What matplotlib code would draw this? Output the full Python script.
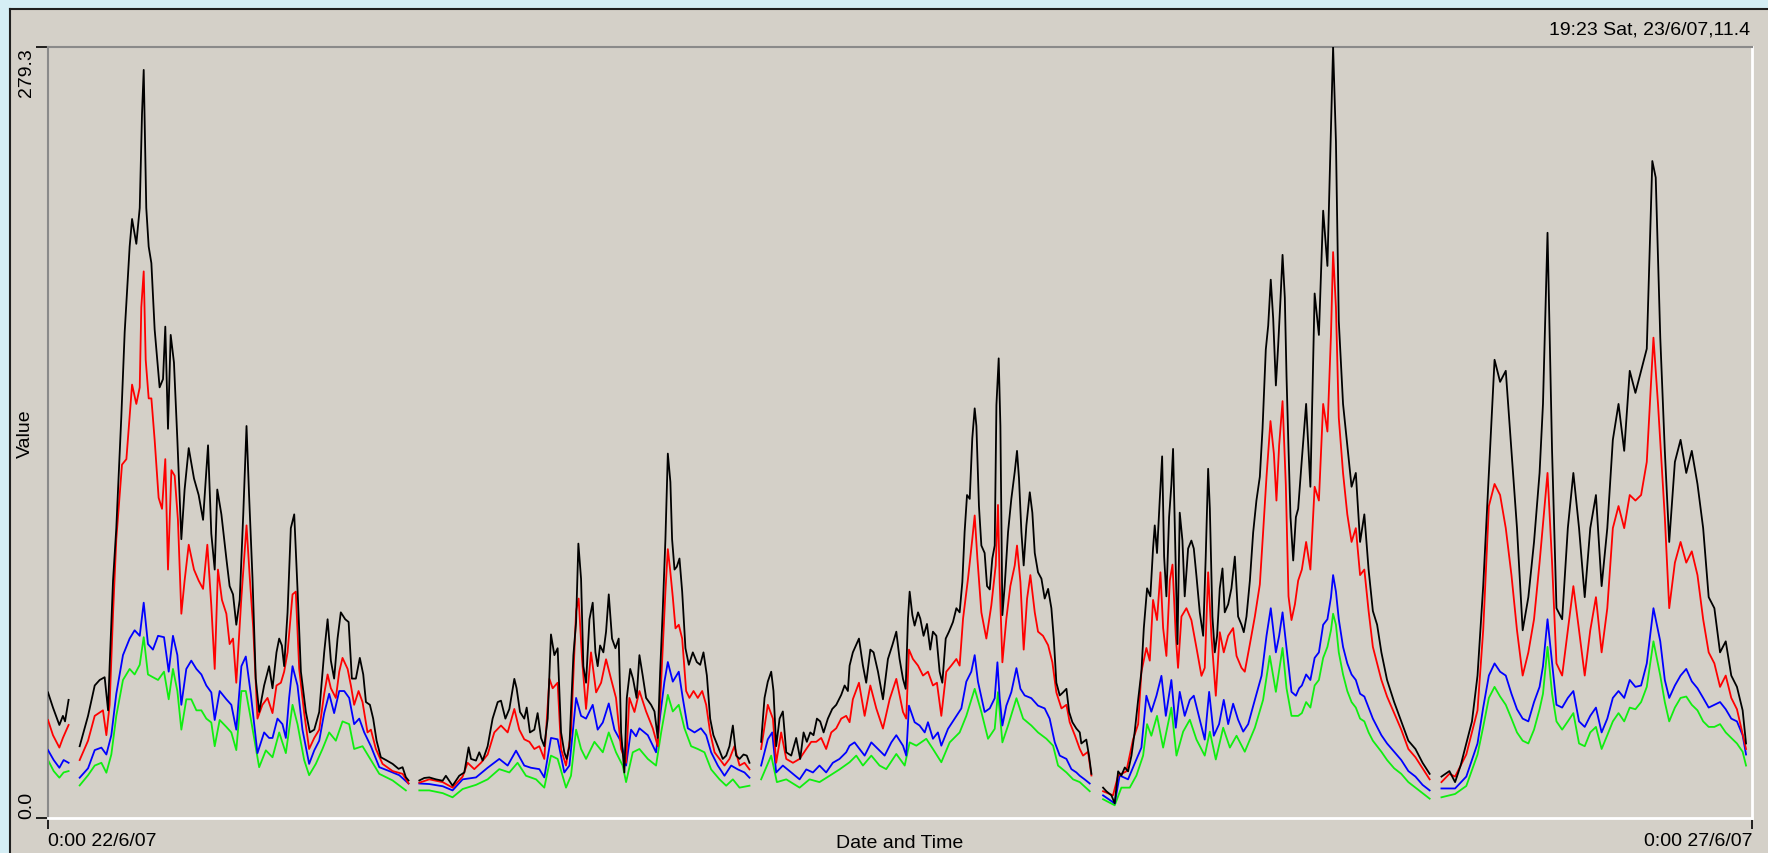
import numpy as np
import matplotlib
matplotlib.use("Agg")
import matplotlib.pyplot as plt
from matplotlib.patches import Rectangle
from matplotlib.lines import Line2D

plt.rcParams['font.family'] = ['Liberation Sans', 'DejaVu Sans']
plt.rcParams['font.size'] = 14

# readings: (hours since 0:00 22/6/07, value)
black_pts = [
    (0.0, 45.5), (0.35, 40), (0.8, 33.7), (1.05, 37), (1.2, 35), (1.45, 42.8),
    (2.23, 26), (2.82, 37), (3.29, 48), (3.64, 50), (3.99, 51), (4.23, 39), (4.34, 55), (4.58, 86),
    (4.81, 105), (5.16, 145), (5.40, 176), (5.75, 207), (5.92, 217), (6.22, 208), (6.46, 221),
    (6.62, 255), (6.74, 271), (6.92, 221), (7.09, 207), (7.28, 201), (7.51, 177), (7.86, 156),
    (8.10, 159), (8.26, 178), (8.45, 141), (8.64, 175), (8.87, 165), (9.11, 137), (9.39, 101),
    (9.62, 119), (9.91, 134), (10.28, 123), (10.61, 117), (10.92, 108), (11.27, 135), (11.50, 103),
    (11.74, 90), (11.92, 119), (12.21, 110), (12.56, 94), (12.79, 84), (13.03, 81), (13.26, 70),
    (13.50, 79), (13.75, 110), (13.98, 142), (14.16, 117), (14.40, 87), (14.63, 50.5), (14.87, 38.4),
    (15.22, 48), (15.57, 55), (15.81, 47), (16.09, 60), (16.28, 65), (16.47, 62.5), (16.63, 55),
    (16.87, 74.5), (17.1, 105), (17.34, 110), (17.57, 83), (17.81, 53), (18.16, 38.4), (18.44, 31),
    (18.75, 32), (19.1, 38.4), (19.45, 60), (19.69, 72), (19.92, 57), (20.15, 50.5), (20.39, 65),
    (20.62, 74.5), (20.93, 72), (21.17, 71), (21.4, 50.5), (21.68, 50.5), (21.96, 58), (22.2, 52),
    (22.39, 42), (22.67, 41), (22.9, 36), (23.14, 28), (23.44, 22), (23.8, 21), (24.27, 19.6),
    (24.69, 17.8), (24.97, 18.4), (25.2, 14.8), (25.39, 13.6),
    (26.15, 13.6), (26.5, 14.5), (26.85, 14.7), (27.32, 14), (27.79, 13.5), (28.02, 15.3),
    (28.49, 11.7), (28.96, 15.3), (29.32, 16.5), (29.62, 25.6), (29.79, 21.4), (30.14, 20.8),
    (30.37, 23.8), (30.61, 20.8), (30.96, 26), (31.31, 36), (31.67, 42), (31.9, 42.5), (32.21, 36),
    (32.49, 39.5), (32.84, 50.4), (33.0, 47), (33.24, 38.4), (33.54, 36), (33.71, 40), (33.94, 31),
    (34.25, 32), (34.48, 38), (34.72, 29), (34.95, 26), (35.19, 36), (35.42, 66.5), (35.66, 59),
    (35.89, 61.5), (36.13, 31), (36.36, 23.8), (36.53, 21.4), (36.72, 26), (37.0, 59), (37.19, 71),
    (37.35, 99.4), (37.54, 86.6), (37.7, 55), (37.89, 49), (38.13, 72), (38.36, 78), (38.55, 60),
    (38.71, 55), (38.88, 62.5), (39.11, 60), (39.3, 67.5), (39.49, 81), (39.72, 65), (39.96, 61.5),
    (40.19, 65), (40.36, 31), (40.59, 16.5), (40.76, 43.5), (41.0, 54), (41.2, 50.4), (41.45, 43.5),
    (41.65, 59), (41.88, 51.6), (42.12, 43.5), (42.47, 41), (42.71, 38.6), (42.94, 29), (43.11, 53),
    (43.29, 75), (43.48, 101), (43.65, 132), (43.83, 121.7), (43.95, 101), (44.12, 90), (44.28, 91),
    (44.47, 94), (44.66, 82), (44.89, 61.5), (45.13, 55.5), (45.41, 60), (45.69, 56.5), (45.93, 55.5),
    (46.16, 60), (46.4, 51.6), (46.63, 36), (46.86, 30), (47.17, 26), (47.52, 21.4), (47.76, 22.6),
    (47.99, 26), (48.23, 33.5), (48.46, 22.6), (48.7, 21.4), (48.98, 23), (49.21, 22.6), (49.4, 20),
    (50.22, 27.6), (50.46, 43.5), (50.69, 49.4), (50.93, 53), (51.09, 46), (51.28, 26), (51.52, 36),
    (51.75, 38.6), (51.99, 23.8), (52.34, 22.6), (52.69, 29), (52.97, 21.4), (53.21, 31),
    (53.44, 27.6), (53.68, 31), (53.91, 30), (54.15, 36), (54.38, 35), (54.62, 31), (54.92, 36),
    (55.23, 39.5), (55.51, 41), (55.86, 44.6), (56.1, 48), (56.33, 46),
    (56.45, 55.2), (56.68, 60), (57.11, 65), (57.39, 55.2), (57.62, 49), (57.91, 61), (58.14, 60),
    (58.45, 53), (58.8, 43), (59.15, 57.6), (59.46, 62.6), (59.74, 67.5), (59.97, 57.6), (60.21, 50.4),
    (60.4, 46.8), (60.56, 72.2), (60.68, 82), (60.87, 73.5), (61.03, 69.7), (61.27, 74.5),
    (61.43, 72.2), (61.66, 66), (61.9, 70.3), (62.13, 61), (62.32, 67.5), (62.56, 66), (62.79, 53),
    (62.98, 49), (63.22, 65), (63.45, 67.5), (63.73, 71), (63.97, 76), (64.2, 74.5), (64.39, 85.5),
    (64.55, 103.6), (64.72, 117), (64.91, 115.6), (65.09, 137.5), (65.26, 148.4), (65.38, 142),
    (65.56, 113), (65.73, 98.7), (65.96, 96), (66.13, 84), (66.32, 82.8), (66.5, 94), (66.67, 98.7),
    (66.79, 149.6), (66.95, 166.5), (67.07, 142), (67.21, 73.5), (67.37, 84), (67.61, 103.6),
    (67.84, 115.6), (68.08, 125.4), (68.24, 133), (68.38, 123), (68.55, 103.6), (68.71, 91.5),
    (68.9, 106), (69.14, 118), (69.32, 110.6), (69.49, 96), (69.72, 89), (69.96, 86.7), (70.19, 79.5),
    (70.43, 83), (70.66, 76), (70.83, 65), (71.01, 49), (71.25, 44.4), (71.48, 45.5), (71.72, 46.8),
    (71.91, 38.4), (72.14, 34.7), (72.42, 32.4), (72.66, 31), (72.77, 27), (73.12, 28.4),
    (73.31, 22.6), (73.48, 16),
    (74.3, 11), (74.53, 9.7), (74.89, 8.2), (75.12, 5.3), (75.36, 16.9), (75.59, 15.4), (75.83, 18.3),
    (76.06, 16.9), (76.3, 22.6), (76.53, 31.3), (76.77, 42.8), (77.0, 53), (77.17, 68.8), (77.4, 83.2),
    (77.63, 80.3), (77.82, 97.6), (77.94, 106), (78.1, 96), (78.29, 115), (78.46, 131), (78.6, 94.7),
    (78.76, 80.3), (78.95, 109), (79.11, 120.7), (79.23, 133.7), (79.4, 94.7), (79.54, 63),
    (79.7, 110.6), (79.89, 100.5), (80.05, 80.3), (80.29, 97.6), (80.52, 100.5), (80.69, 97.6),
    (80.88, 87.5), (81.11, 74.5), (81.35, 66), (81.53, 94.7), (81.7, 126.5), (81.82, 112), (82.0, 73),
    (82.17, 60), (82.33, 66), (82.52, 83.2), (82.71, 90.4), (82.87, 74.5), (83.11, 77.4), (83.34, 83.2),
    (83.58, 94.7), (83.81, 73), (84.05, 70), (84.21, 67.3), (84.4, 73), (84.64, 86), (84.87, 103.4),
    (85.1, 115), (85.34, 123.6), (85.53, 141), (85.76, 169.7), (85.93, 178.4), (86.11, 195),
    (86.28, 181), (86.47, 156.7), (86.63, 171), (86.8, 188.5), (86.94, 204), (87.1, 188.5),
    (87.22, 160), (87.36, 133.7), (87.5, 109), (87.69, 93.3), (87.88, 109), (88.04, 112),
    (88.3, 130), (88.6, 150), (88.9, 120), (89.2, 190), (89.5, 175), (89.8, 220), (90.1, 200),
    (90.35, 250), (90.5, 279.3), (90.7, 245), (90.9, 180), (91.2, 150), (91.5, 135), (91.8, 120),
    (92.1, 125), (92.4, 100), (92.7, 110), (93.0, 90), (93.3, 75), (93.6, 70), (93.9, 60), (94.3, 50),
    (94.8, 42), (95.3, 35), (95.8, 28), (96.3, 25), (96.8, 20), (97.3, 16),
    (98.13, 15), (98.69, 17), (99.09, 13), (99.48, 19), (99.88, 27), (100.28, 35), (100.67, 51.6),
    (101.07, 84), (101.47, 125), (101.87, 166), (102.26, 158), (102.66, 162), (103.06, 133),
    (103.45, 105), (103.85, 68), (104.25, 80), (104.65, 100), (105.04, 125), (105.28, 150),
    (105.6, 212), (105.92, 133), (106.23, 76), (106.63, 72), (107.03, 105), (107.42, 125),
    (107.82, 105), (108.22, 80), (108.61, 105), (109.01, 117), (109.41, 84), (109.81, 105),
    (110.2, 137), (110.6, 150), (111.0, 133), (111.39, 162), (111.79, 154), (112.19, 162),
    (112.59, 170), (112.98, 238), (113.22, 232), (113.54, 174), (113.86, 133), (114.17, 100),
    (114.57, 129), (114.97, 137), (115.37, 125), (115.76, 133), (116.16, 121), (116.56, 105),
    (116.95, 80), (117.35, 76), (117.75, 60), (118.15, 64), (118.54, 51.6), (118.94, 47.5),
    (119.34, 39), (119.58, 27),
]

red_pts = [
    (0.0, 35.5), (0.35, 30), (0.8, 25.5), (1.05, 29), (1.45, 33.7),
    (2.23, 21), (2.82, 28), (3.29, 37), (3.87, 39), (4.11, 30), (4.34, 41), (4.58, 74), (4.81, 101),
    (5.21, 128), (5.52, 130), (5.92, 157), (6.22, 150), (6.46, 156), (6.57, 185), (6.74, 198),
    (6.88, 166), (7.09, 152), (7.28, 152), (7.51, 137), (7.79, 116), (8.03, 112), (8.26, 130),
    (8.45, 90), (8.69, 126), (8.92, 124), (9.15, 108), (9.39, 74), (9.62, 86), (9.91, 99), (10.28, 90),
    (10.61, 86), (10.92, 83), (11.22, 99), (11.50, 77), (11.74, 54), (11.97, 90), (12.25, 79),
    (12.56, 74), (12.79, 63), (13.03, 65), (13.26, 49), (13.62, 80), (13.98, 106), (14.21, 87),
    (14.45, 69), (14.75, 36), (15.1, 41), (15.46, 43.5), (15.81, 38), (16.09, 48), (16.4, 49),
    (16.63, 53), (16.87, 60), (17.22, 81), (17.45, 82), (17.69, 54), (18.04, 38), (18.39, 25),
    (18.75, 29), (19.1, 32), (19.45, 45), (19.69, 52), (19.92, 47), (20.27, 43.5), (20.51, 53),
    (20.74, 58), (21.1, 54), (21.33, 48), (21.56, 41), (21.87, 46), (22.15, 42), (22.5, 31),
    (22.74, 32), (23.09, 25), (23.56, 19.6), (24.27, 17), (24.97, 16), (25.39, 12.5),
    (26.15, 12.8), (26.85, 14), (27.79, 13), (28.49, 11), (29.2, 15), (29.55, 20), (30.02, 17.7),
    (30.49, 20), (30.96, 23), (31.43, 31), (31.9, 33.5), (32.37, 31), (32.84, 39.5), (33.19, 32),
    (33.54, 28.5), (33.9, 27.6), (34.25, 25), (34.6, 26), (34.95, 21.4), (35.31, 50.4), (35.54, 47),
    (35.89, 49), (36.13, 25), (36.48, 19), (36.83, 31), (37.19, 75), (37.37, 79.5), (37.61, 57.5),
    (37.89, 39.5), (38.24, 60), (38.6, 45.5), (38.95, 49), (39.3, 57.5), (39.65, 50.4), (40.0, 43.5),
    (40.36, 25), (40.71, 20), (40.94, 43.5), (41.3, 38.4),
    (41.65, 46), (42.12, 38.6), (42.59, 32.5), (42.94, 26), (43.18, 49.4), (43.48, 82), (43.65, 97.4),
    (43.81, 90), (44.0, 80), (44.19, 68.7), (44.42, 70), (44.66, 65), (44.94, 46), (45.17, 43.5),
    (45.46, 46), (45.76, 43.5), (46.07, 46), (46.35, 41), (46.63, 31), (46.94, 23.8), (47.29, 21.4),
    (47.64, 19), (47.99, 21.4), (48.34, 26), (48.7, 19), (49.05, 20), (49.4, 17.6),
    (50.22, 25), (50.69, 41), (51.05, 36), (51.28, 20), (51.63, 31), (51.99, 21.4), (52.46, 20),
    (52.93, 21.4), (53.4, 25), (53.75, 27.6), (54.1, 27.6), (54.45, 29), (54.8, 25), (55.16, 31),
    (55.51, 32.5), (55.86, 36), (56.21, 37),
    (56.45, 34.7), (56.68, 43), (57.11, 49), (57.51, 37), (57.91, 48), (58.33, 39.7), (58.8, 32.4),
    (59.27, 43), (59.74, 50.4), (60.21, 38.4), (60.44, 36), (60.63, 61), (60.91, 57.6), (61.27, 55.2),
    (61.62, 51.6), (61.97, 53), (62.32, 48), (62.6, 49), (62.91, 37), (63.26, 53), (63.61, 55.2),
    (63.97, 57.6), (64.2, 55.2), (64.44, 72.2), (64.79, 86.7), (65.09, 101), (65.26, 109.6),
    (65.45, 94), (65.73, 74.5), (66.08, 65), (66.43, 77), (66.74, 91.5), (66.9, 113.4), (67.02, 85.5),
    (67.21, 56.4), (67.49, 72.2), (67.77, 84), (68.08, 91.5), (68.24, 98.7), (68.48, 85.5),
    (68.71, 61), (68.95, 79.5), (69.18, 88), (69.49, 74.5), (69.72, 67.5), (70.07, 66), (70.43, 62.6),
    (70.73, 56.4), (71.01, 45.5), (71.37, 39.7), (71.72, 41), (71.95, 34.7), (72.31, 30), (72.66, 25),
    (72.89, 22.6), (73.24, 24), (73.48, 15.4),
    (74.3, 9.7), (75.0, 8.2), (75.36, 15.4), (75.94, 16.9), (76.41, 28.4), (76.77, 34), (77.0, 53),
    (77.35, 61.6), (77.59, 57), (77.82, 79), (78.1, 71.7), (78.34, 89), (78.53, 68.8), (78.76, 58.7),
    (79.0, 86), (79.19, 91.8), (79.42, 66), (79.58, 54.4), (79.82, 73), (80.17, 76), (80.52, 71.7),
    (80.88, 61.6), (81.23, 51.5), (81.46, 54.4), (81.7, 89), (81.93, 66), (82.24, 44.3), (82.52, 67.3),
    (82.8, 60), (83.11, 66), (83.46, 68.8), (83.7, 58.7), (84.05, 54.4), (84.28, 53), (84.64, 63),
    (84.99, 73), (85.34, 84.6), (85.57, 103.4), (85.81, 123.6), (86.09, 143.8), (86.33, 132),
    (86.51, 115), (86.7, 135), (86.94, 151), (87.17, 120.7), (87.36, 80.3), (87.57, 71.7),
    (87.81, 77.4), (88.04, 86),
    (88.3, 90), (88.6, 100), (88.9, 90), (89.2, 120), (89.5, 115), (89.8, 150), (90.1, 140),
    (90.35, 175), (90.5, 205), (90.7, 185), (90.9, 145), (91.2, 125), (91.5, 110), (91.8, 100),
    (92.1, 105), (92.4, 88), (92.7, 90), (93.0, 75), (93.3, 62), (93.6, 56), (93.9, 50), (94.3, 44),
    (94.8, 38), (95.3, 32), (95.8, 25), (96.3, 22), (96.8, 18), (97.3, 14),
    (98.13, 13), (98.69, 16), (99.09, 15), (99.88, 23), (100.67, 39), (101.07, 68), (101.47, 113),
    (101.87, 121), (102.26, 117), (102.66, 105), (103.06, 88), (103.45, 68), (103.85, 51.6),
    (104.25, 60), (104.65, 72), (105.04, 92.5), (105.6, 125), (105.92, 92.5), (106.23, 56),
    (106.63, 51.6), (107.03, 68), (107.42, 84), (107.82, 68), (108.22, 51.6), (108.61, 68),
    (109.01, 80), (109.41, 60), (109.81, 76), (110.2, 105), (110.6, 113), (111.0, 105), (111.39, 117),
    (111.79, 115), (112.19, 117), (112.59, 129), (113.06, 174), (113.38, 150), (113.86, 109),
    (114.17, 76), (114.57, 92.5), (114.97, 100), (115.37, 92.5), (115.76, 96.6), (116.16, 88),
    (116.56, 72), (116.95, 60), (117.35, 56), (117.75, 47.5), (118.15, 51.6), (118.54, 43.5),
    (118.94, 39.4), (119.58, 25),
]

blue_pts = [
    (0.0, 24.6), (0.4, 21), (0.8, 18.2), (1.1, 21), (1.45, 20),
    (2.23, 14.6), (2.82, 18), (3.29, 24.6), (3.76, 25.5), (4.11, 23), (4.46, 30), (4.81, 45),
    (5.28, 59), (5.75, 65), (6.1, 68), (6.46, 66), (6.74, 78), (7.04, 63), (7.39, 61), (7.75, 66),
    (8.17, 65.5), (8.5, 53), (8.8, 66), (9.11, 59), (9.39, 41), (9.74, 54), (10.09, 57), (10.45, 54),
    (10.8, 52), (11.15, 48), (11.5, 45.5), (11.74, 35.5), (12.09, 46), (12.56, 43), (12.91, 41),
    (13.26, 32), (13.62, 55), (13.93, 58.5), (14.28, 45), (14.75, 23.5), (15.22, 31), (15.57, 29),
    (15.81, 29), (16.16, 36), (16.51, 34), (16.75, 29), (16.98, 43.5), (17.22, 55), (17.57, 48),
    (17.92, 32), (18.39, 19.6), (18.75, 24.5), (19.1, 28), (19.45, 38), (19.8, 45), (20.15, 38),
    (20.51, 46), (20.86, 46), (21.21, 43.5), (21.56, 34), (21.92, 36), (22.27, 31), (22.74, 26),
    (23.33, 18.4), (24.03, 17), (24.74, 15.5), (25.39, 12.5),
    (26.15, 12.5), (26.85, 12.3), (27.8, 11.5), (28.49, 10), (29.2, 14), (30.14, 14.7), (30.96, 18.2),
    (31.78, 21.4), (32.37, 19), (32.96, 24.4), (33.54, 19), (34.01, 18.2), (34.6, 17.7), (34.95, 14.7),
    (35.42, 29), (35.89, 28.5), (36.36, 16.5), (36.72, 19), (37.19, 43.5), (37.54, 37), (37.89, 36),
    (38.36, 41), (38.71, 32), (39.07, 34.6), (39.49, 41.5), (39.89, 32), (40.36, 27.6), (40.71, 19),
    (41.06, 32), (41.41, 29.6),
    (41.65, 32.5), (42.24, 30), (42.82, 23.8), (43.11, 37), (43.41, 49.4), (43.65, 56.5), (44.0, 49.4),
    (44.42, 53), (44.7, 43.5), (45.06, 32.5), (45.53, 31), (45.98, 32.5), (46.35, 30), (46.7, 23.8),
    (47.17, 19), (47.64, 15.3), (48.11, 19), (48.58, 17.6), (49.05, 16.5), (49.4, 14.6),
    (50.22, 19), (50.69, 28.5), (51.0, 31), (51.28, 16.5), (51.75, 19), (52.34, 16.5), (52.93, 14),
    (53.4, 17.6), (53.87, 16.5), (54.33, 19), (54.8, 16.5), (55.27, 20), (55.74, 21.4), (56.21, 23.8),
    (56.45, 26.2), (56.8, 27.4), (57.15, 25), (57.51, 22.6), (57.98, 27.4), (58.45, 25), (58.92, 22.6),
    (59.39, 27.4), (59.74, 30), (60.21, 26.2), (60.44, 22.6), (60.63, 40.7), (61.03, 34.7),
    (61.38, 33.5), (61.74, 31), (61.97, 34.7), (62.32, 28.7), (62.67, 31), (62.91, 26.2), (63.38, 32.3),
    (63.85, 36), (64.32, 39.7), (64.67, 49.4), (65.02, 53), (65.26, 59), (65.49, 49.4), (65.96, 38.4),
    (66.32, 39.7), (66.67, 43.4), (66.86, 56.4), (67.02, 43.4), (67.21, 33.5), (67.49, 40.7),
    (67.84, 45.6), (68.2, 54.3), (68.48, 46.8), (68.78, 44.4), (69.25, 43.4), (69.72, 40.7),
    (70.19, 39.7), (70.54, 36), (70.9, 27.4), (71.25, 22.6), (71.72, 21.4), (72.07, 17.7),
    (72.42, 16.5), (72.66, 15.3), (73.0, 14), (73.36, 12.5),
    (74.3, 8.2), (75.12, 5.3), (75.47, 15.4), (76.06, 14), (76.53, 19.8), (77.0, 25.5), (77.35, 44.3),
    (77.7, 38.5), (78.06, 44.3), (78.41, 51.5), (78.72, 37), (79.11, 50), (79.42, 32.7), (79.7, 45.7),
    (80.05, 37), (80.41, 42.8), (80.69, 44.3), (81.11, 35.6), (81.46, 28.4), (81.77, 45.7),
    (82.1, 29.8), (82.47, 34), (82.8, 42.8), (83.11, 34), (83.46, 41.4), (83.81, 35.6), (84.17, 31.3),
    (84.52, 34), (84.99, 42.8), (85.46, 51.5), (85.81, 66), (86.11, 76), (86.47, 60), (86.7, 66),
    (86.94, 74.5), (87.22, 61.6), (87.57, 45.7), (87.88, 44.3), (88.11, 47),
    (88.3, 48), (88.6, 52), (88.9, 50), (89.2, 58), (89.5, 60), (89.8, 70), (90.1, 72), (90.35, 80),
    (90.5, 88), (90.7, 82), (90.9, 72), (91.2, 62), (91.5, 56), (91.8, 52), (92.1, 50), (92.4, 45),
    (92.7, 44), (93.0, 40), (93.3, 36), (93.6, 33), (93.9, 30), (94.3, 27), (94.8, 24), (95.3, 21),
    (95.8, 17), (96.3, 15), (96.8, 12), (97.3, 10),
    (98.13, 10.7), (99.09, 10.7), (99.88, 15), (100.67, 27), (101.07, 40), (101.47, 51.6),
    (101.87, 56), (102.26, 53), (102.66, 51.6), (103.06, 45), (103.45, 39.4), (103.85, 36),
    (104.25, 35), (104.65, 42), (105.04, 47.5), (105.28, 55), (105.6, 72), (106.23, 41), (106.63, 40),
    (107.03, 43.5), (107.42, 46), (107.82, 35), (108.22, 33), (108.61, 37), (109.01, 40), (109.41, 31),
    (109.81, 36), (110.2, 43.5), (110.6, 46), (111.0, 43.5), (111.39, 50), (111.79, 47.5),
    (112.19, 48), (112.59, 56), (113.06, 76), (113.54, 64), (113.86, 50), (114.17, 43.5),
    (114.57, 48), (114.97, 51.6), (115.37, 54), (115.76, 49.5), (116.16, 47), (116.56, 43.5),
    (116.95, 40), (117.35, 41), (117.75, 42), (118.15, 39.4), (118.54, 36), (118.94, 35),
    (119.34, 30), (119.58, 23),
]

green_pts = [
    (0.0, 21), (0.4, 17), (0.8, 14.6), (1.1, 16.5), (1.45, 17),
    (2.23, 11.8), (2.82, 15.5), (3.29, 19), (3.76, 20), (4.11, 16.4), (4.46, 23), (4.81, 37),
    (5.28, 50), (5.75, 54), (6.1, 52), (6.46, 55.5), (6.74, 65.5), (7.04, 52), (7.39, 51), (7.75, 50),
    (8.17, 53), (8.5, 43), (8.8, 54), (9.11, 46), (9.39, 32), (9.74, 43), (10.09, 43), (10.45, 39),
    (10.8, 39), (11.15, 36), (11.5, 34.6), (11.74, 26), (12.09, 35.5), (12.56, 33), (12.91, 31),
    (13.26, 24.6), (13.62, 46), (13.93, 46), (14.28, 36), (14.87, 18.4), (15.34, 24.5), (15.81, 22),
    (16.28, 31), (16.75, 23.5), (17.22, 41), (17.57, 34), (18.04, 21), (18.39, 15.5), (18.86, 19.6),
    (19.33, 25), (19.8, 31), (20.27, 28), (20.74, 35), (21.21, 34), (21.56, 25), (22.15, 26),
    (22.74, 21), (23.33, 16), (24.27, 13.6), (25.2, 10),
    (26.15, 10), (26.85, 10), (27.8, 9), (28.49, 7.5), (29.2, 10.5), (30.14, 12), (30.96, 14),
    (31.78, 17.7), (32.49, 16.5), (33.07, 20), (33.66, 15.3), (34.37, 14), (34.95, 11), (35.42, 22.6),
    (35.89, 21.4), (36.48, 11), (36.83, 15.3), (37.19, 32), (37.54, 25), (37.89, 21.4), (38.48, 27.6),
    (39.07, 23.8), (39.49, 31), (40.0, 23.8), (40.47, 19), (40.71, 13), (41.18, 23.8),
    (41.65, 25), (42.24, 21.4), (42.82, 19), (43.18, 31), (43.65, 44.6), (44.0, 38.6), (44.42, 41),
    (44.82, 32.5), (45.29, 26), (45.76, 25), (46.23, 23.8), (46.7, 17.6), (47.29, 14), (47.76, 11.7),
    (48.23, 14), (48.7, 11), (49.4, 11.7),
    (50.22, 14), (50.93, 22.6), (51.33, 13), (51.99, 14), (52.93, 11), (53.63, 14), (54.33, 13),
    (55.04, 15.3), (55.74, 17.6),
    (56.45, 20.2), (56.92, 22.6), (57.39, 19), (57.98, 22.6), (58.56, 19), (59.03, 17.7), (59.74, 23.2),
    (60.33, 19), (60.68, 27.4), (61.15, 26.2), (61.85, 28.7), (62.32, 25), (62.91, 20.2), (63.5, 27.4),
    (64.2, 31), (64.67, 37), (65.26, 46.8), (65.73, 38.4), (66.2, 28.7), (66.67, 32.3), (66.9, 45.6),
    (67.21, 27.4), (67.61, 33.5), (68.2, 43.4), (68.67, 36), (69.25, 33.5), (69.72, 31), (70.31, 28.7),
    (70.78, 26.2), (71.13, 19), (71.72, 16.5), (72.19, 14), (72.66, 13), (73.36, 9.7),
    (74.3, 6.8), (75.12, 4.6), (75.59, 11), (76.18, 11), (76.65, 15.4), (77.12, 22.6), (77.4, 34),
    (77.7, 29.8), (78.1, 37), (78.53, 25.5), (79.11, 40), (79.47, 22.6), (79.94, 31.3), (80.41, 35.6),
    (80.88, 28.4), (81.46, 22.6), (81.82, 31.3), (82.24, 21.2), (82.76, 32.7), (83.23, 25.5),
    (83.7, 29.8), (84.28, 24), (84.99, 32.7), (85.57, 42.8), (86.04, 58.7), (86.47, 45.7),
    (86.94, 61.6), (87.22, 47), (87.57, 37), (88.04, 37),
    (88.3, 38), (88.6, 42), (88.9, 40), (89.2, 48), (89.5, 50), (89.8, 58), (90.1, 62), (90.35, 68),
    (90.5, 74), (90.7, 70), (90.9, 60), (91.2, 52), (91.5, 46), (91.8, 42), (92.1, 40), (92.4, 36),
    (92.7, 35), (93.0, 31), (93.3, 28), (93.6, 26), (93.9, 24), (94.3, 21), (94.8, 18), (95.3, 16),
    (95.8, 13), (96.3, 11), (96.8, 9), (97.3, 7),
    (98.13, 7.5), (99.09, 8.7), (99.88, 11.6), (100.67, 23), (101.07, 33), (101.47, 43.5),
    (101.87, 47.5), (102.26, 44), (102.66, 41), (103.06, 36), (103.45, 31), (103.85, 28), (104.25, 27),
    (104.65, 32), (105.04, 39.4), (105.28, 45), (105.6, 62), (105.92, 45), (106.23, 35), (106.63, 32),
    (107.03, 35), (107.42, 38), (107.82, 27), (108.22, 26), (108.61, 31), (109.01, 33), (109.41, 25),
    (109.81, 30), (110.2, 35), (110.6, 38), (111.0, 35), (111.39, 40), (111.79, 39.4), (112.19, 42),
    (112.59, 47.5), (113.06, 64), (113.54, 51.6), (113.86, 42), (114.17, 35), (114.57, 40),
    (114.97, 43.5), (115.37, 44), (115.76, 41), (116.16, 39), (116.56, 35), (116.95, 33), (117.35, 33),
    (117.75, 34), (118.15, 31), (118.54, 29), (118.94, 27), (119.34, 24), (119.58, 19),
]

# logger had no readings around these times (lines are broken there)
breaks = [1.8, 25.8, 49.8, 73.9, 97.7]

x_range = (0, 120)
y_range = (0, 279.3)
x_labels = ["0:00 22/6/07", "0:00 27/6/07"]
y_labels = ["0.0", "279.3"]
cursor_text = "19:23 Sat, 23/6/07,11.4"

W, H = 1768, 854
fig = plt.figure(figsize=(W / 100, H / 100), dpi=100)
fig.patch.set_facecolor('#d5eef5')

# grey window panel with dark top/left edge
fig.add_artist(Rectangle((10 / W, 0), 1 - 10 / W, 1 - 10 / H, transform=fig.transFigure,
                         facecolor='#d4d0c8', edgecolor='none', zorder=0))
fig.add_artist(Line2D([10 / W, 1], [1 - 10 / H, 1 - 10 / H], transform=fig.transFigure,
                      color='#202020', lw=1.5))
fig.add_artist(Line2D([10 / W, 10 / W], [0, 1 - 10 / H], transform=fig.transFigure,
                      color='#202020', lw=1.5))

ax = fig.add_axes([48 / W, (H - 819) / H, (1752 - 48) / W, (819 - 48) / H])
ax.set_facecolor('#d4d0c8')
for side in ['left', 'top']:
    ax.spines[side].set_color('#8a8a8a')
    ax.spines[side].set_linewidth(1.5)
for side in ['right', 'bottom']:
    ax.spines[side].set_color('white')
    ax.spines[side].set_linewidth(2)


def segments(points):
    pts = np.array(sorted(points))
    idx = np.searchsorted(pts[:, 0], breaks)
    return [s for s in np.split(pts, idx) if len(s)]


for pts, col, z in [(green_pts, '#10ee10', 2), (blue_pts, '#0000ff', 3),
                    (red_pts, '#ff0000', 4), (black_pts, '#000000', 5)]:
    for seg in segments(pts):
        ax.plot(seg[:, 0], seg[:, 1], color=col, lw=1.3, zorder=z)

ax.set_xlim(*x_range)
ax.set_ylim(*y_range)

ax.set_xticks(list(x_range))
ax.set_xticklabels(x_labels)
xl = ax.get_xticklabels()
xl[0].set_ha('left')
xl[1].set_ha('right')
ax.set_yticks(list(y_range))
ax.set_yticklabels(y_labels, rotation=90)
yl = ax.get_yticklabels()
yl[0].set_va('bottom')
yl[1].set_va('top')
ax.tick_params(axis='both', direction='out', color='black', width=1.2, labelsize=14)
ax.tick_params(axis='x', length=8, pad=2)
ax.tick_params(axis='y', length=8.5, pad=1)

ax.set_xlabel("Date and Time", fontsize=14)
ax.xaxis.set_label_coords(0.5, -0.0205)
ax.xaxis.label.set_va('top')
ax.set_ylabel("Value", fontsize=14)
ax.yaxis.set_label_coords(-23 / (1752 - 48), 0.5)
ax.yaxis.label.set_va('center')

fig.text(1750 / W, 1 - 30 / H, cursor_text, ha='right', va='center', fontsize=14)

fig.savefig("out.png", dpi=100, facecolor=fig.get_facecolor())
